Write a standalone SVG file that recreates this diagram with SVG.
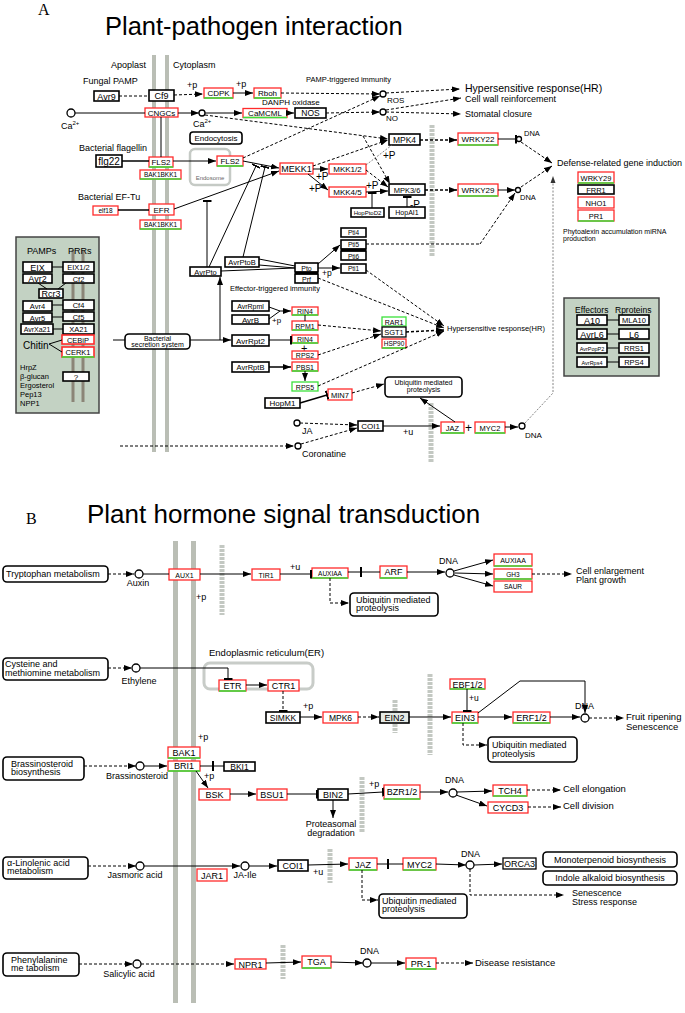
<svg xmlns="http://www.w3.org/2000/svg" width="685" height="1013" viewBox="0 0 685 1013">
<style>
text{font-family:"Liberation Sans",Arial,sans-serif;fill:#000}
.serif{font-family:"Liberation Serif","Times New Roman",serif}
.n rect{fill:#fff;stroke:#000;stroke-width:1}
.n rect.k{stroke-width:1.6}
.n rect.r{stroke:#ff2b2b;stroke-width:1.3}
.n rect.g{stroke:#3be03b;stroke-width:1.3}
.n rect.p{stroke-width:1.3}
.gl{stroke:#3be03b;stroke-width:1.6;fill:none}
.c{text-anchor:middle}
.l{fill:none;stroke:#000;stroke-width:1}
.w{stroke-width:1.5}
.d{stroke-dasharray:3,2}
.dt{stroke:#666;stroke-width:0.8;stroke-dasharray:2,1.5}
.a{marker-end:url(#ah)}
.t{marker-end:url(#tb)}
.mem{stroke:#babeb5;stroke-width:4}
.memb{stroke:#babeb5;stroke-width:5}
.nuc{stroke:#c3c8c2;stroke-width:5;stroke-dasharray:3,1}
.cir{fill:#fff;stroke:#000;stroke-width:1.3}
.panel{fill:#c3d2c3;stroke:#444;stroke-width:1.5}
.pl{stroke:#8b8577;stroke-width:3}
</style>
<defs>
<marker id="ah" markerUnits="userSpaceOnUse" markerWidth="8" markerHeight="6" viewBox="0 0 8 6" refX="8" refY="3" orient="auto"><path d="M0,0 L8,3 L0,6z"/></marker>
<marker id="tb" markerUnits="userSpaceOnUse" markerWidth="2" markerHeight="9" viewBox="0 0 2 9" refX="1" refY="4.5" orient="auto"><rect width="2" height="9"/></marker>
</defs>
<rect width="685" height="1013" fill="#fff"/>

<!-- ================= PART A ================= -->
<text class="serif" x="38" y="15" font-size="16">A</text>
<text x="105" y="35" font-size="25.5">Plant-pathogen interaction</text>

<g id="membranes-a">
<line class="mem" x1="154" y1="55" x2="154" y2="452"/>
<line class="mem" x1="167" y1="55" x2="167" y2="452"/>
<line class="nuc" x1="432" y1="125" x2="432" y2="257"/>
<line class="nuc" x1="431" y1="403" x2="431" y2="462"/>
</g>

<g id="labels-a">
<text x="111" y="68" font-size="9">Apoplast</text>
<text x="173" y="68" font-size="9">Cytoplasm</text>
<text x="83" y="84" font-size="9">Fungal PAMP</text>
<text x="79" y="151" font-size="9">Bacterial flagellin</text>
<text x="78" y="200" font-size="9">Bacterial EF-Tu</text>
<text x="61" y="129" font-size="9">Ca<tspan font-size="6" dy="-4">2+</tspan></text>
<text x="193" y="127" font-size="9">Ca<tspan font-size="6" dy="-4">2+</tspan></text>
<text x="306" y="82" font-size="7.5">PAMP-triggered immunity</text>
<text x="262" y="105" font-size="8">DANPH oxidase</text>
<text x="387" y="103" font-size="8">ROS</text>
<text x="386" y="121" font-size="8">NO</text>
<text x="465" y="92" font-size="10.5">Hypersensitive response(HR)</text>
<text x="465" y="101.5" font-size="9">Cell wall reinforcement</text>
<text x="465" y="117" font-size="9">Stomatal closure</text>
<text x="557" y="166" font-size="9">Defense-related gene induction</text>
<text x="563" y="234" font-size="7">Phytoalexin accumulation miRNA</text>
<text x="563" y="240.5" font-size="7">production</text>
<text x="524" y="136" font-size="7.5">DNA</text>
<text x="520" y="200" font-size="7.5">DNA</text>
<text x="230" y="291" font-size="7.5">Effector-triggered immunity</text>
<text x="447" y="331" font-size="7.5">Hypersensitive response(HR)</text>
<text x="302" y="434" font-size="9">JA</text>
<text x="302" y="457" font-size="9">Coronatine</text>
<text x="525" y="438" font-size="8">DNA</text>
<text x="403" y="435" font-size="9">+u</text>
<text x="465" y="432" font-size="12">+</text>
<text x="301" y="352" font-size="11">+</text>
<text x="187" y="88" font-size="9">+p</text>
<text x="236" y="87" font-size="9">+p</text>
<text x="322" y="276" font-size="8.5">+p</text>
<text x="272" y="323" font-size="8">+p</text>
<text x="316" y="180" font-size="10">+P</text>
<text x="309" y="192" font-size="10">+P</text>
<text x="366" y="189" font-size="10">+P</text>
<text x="383" y="159" font-size="10">+P</text>
<text x="410" y="208" font-size="10">-P</text>
</g>

<g id="panel-pamps">
<rect class="panel" x="16" y="237" width="83" height="176"/>
<line class="pl" x1="73" y1="250" x2="73" y2="402"/>
<line class="pl" x1="83" y1="250" x2="83" y2="402"/>
<text x="27" y="254" font-size="9">PAMPs</text>
<text x="68" y="254" font-size="9">PRRs</text>
<text x="23" y="349" font-size="10">Chitin</text>
<text x="20" y="370" font-size="7.5">HrpZ</text>
<text x="20" y="379" font-size="7.5">β-glucan</text>
<text x="20" y="388" font-size="7.5">Ergosterol</text>
<text x="20" y="397" font-size="7.5">Pep13</text>
<text x="20" y="405.5" font-size="7.5">NPP1</text>
</g>

<g id="panel-effectors">
<rect class="panel" x="564" y="298" width="95" height="78"/>
<text x="575" y="313" font-size="8.5">Effectors</text>
<text x="615" y="313" font-size="8.5">Rproteins</text>
</g>

<!-- nodes A -->
<g id="n-avr9" class="n"><rect class="k" x="94" y="91" width="25" height="10"/><text class="c" x="106.5" y="99.5" font-size="9">Avr9</text></g>
<g id="n-cf9" class="n"><rect class="k" x="149" y="90" width="25" height="11"/><text class="c" x="161.5" y="99" font-size="9">Cf9</text></g>
<g id="n-cdpk" class="n"><rect class="r" x="204" y="88" width="29" height="10"/><path class="gl" d="M204,98H233"/><text class="c" x="218.5" y="96" font-size="8">CDPK</text></g>
<g id="n-rboh" class="n"><rect class="r" x="254" y="88" width="27" height="10"/><path class="gl" d="M254,98H281"/><text class="c" x="267.5" y="96" font-size="8">Rboh</text></g>
<g id="n-cngcs" class="n"><rect class="r" x="145" y="108" width="33" height="9"/><text class="c" x="161.5" y="115.5" font-size="8">CNGCs</text></g>
<g id="n-camcml" class="n"><rect class="r" x="243" y="108.5" width="44" height="9"/><path class="gl" d="M243,117.5H287"/><text class="c" x="265" y="116" font-size="8">CaMCML</text></g>
<g id="n-nos" class="n"><rect class="k" x="295" y="108" width="31" height="10"/><text class="c" x="310.5" y="116" font-size="8.5">NOS</text></g>
<g id="n-endocytosis" class="n"><rect class="k" x="190" y="132" width="52" height="12" rx="3"/><text class="c" x="216" y="141" font-size="8">Endocytosis</text></g>
<g id="n-endosome"><rect x="190" y="149" width="40" height="36" rx="5" fill="none" stroke="#c5cac5" stroke-width="2.5"/><text class="c" x="210" y="180" font-size="6" style="fill:#666">Endosome</text></g>
<g id="n-flg22" class="n"><rect class="k" x="96" y="155" width="26" height="12"/><text class="c" x="109" y="164.5" font-size="10">flg22</text></g>
<g id="n-fls2m" class="n"><rect class="r" x="149" y="157" width="24" height="10"/><path class="gl" d="M149,167H173"/><text class="c" x="161" y="165" font-size="8">FLS2</text></g>
<g id="n-bak1a" class="n"><rect class="r" x="140" y="170" width="41" height="9"/><path class="gl" d="M140,179H181"/><text class="c" x="160.5" y="177" font-size="6.5">BAK1BKK1</text></g>
<g id="n-fls2c" class="n"><rect class="r" x="217" y="156" width="26" height="10"/><path class="gl" d="M217,166H243"/><text class="c" x="230" y="164" font-size="8">FLS2</text></g>
<g id="n-elf18" class="n"><rect class="r" x="93" y="206" width="25" height="9"/><text class="c" x="105.5" y="213" font-size="6.5">elf18</text></g>
<g id="n-efr" class="n"><rect class="r" x="149" y="204" width="25" height="11"/><text class="c" x="161.5" y="212.5" font-size="8">EFR</text></g>
<g id="n-bak1b" class="n"><rect class="r" x="140" y="220" width="41" height="9"/><path class="gl" d="M140,229H181"/><text class="c" x="160.5" y="227" font-size="6.5">BAK1BKK1</text></g>
<g id="n-mekk1" class="n"><rect class="r" x="280" y="163" width="33" height="11"/><text class="c" x="296.5" y="172" font-size="9">MEKK1</text></g>
<g id="n-mkk12" class="n"><rect class="r" x="329" y="164" width="37" height="10"/><text class="c" x="347.5" y="172" font-size="8">MKK1/2</text></g>
<g id="n-mkk45" class="n"><rect class="r" x="329" y="187" width="37" height="10"/><text class="c" x="347.5" y="195" font-size="8">MKK4/5</text></g>
<g id="n-mpk4" class="n"><rect class="k" x="389" y="134" width="31" height="11"/><text class="c" x="404.5" y="143" font-size="8.5">MPK4</text></g>
<g id="n-mpk36" class="n"><rect class="k" x="389" y="184" width="36" height="11"/><text class="c" x="407" y="192.5" font-size="7.5">MPK3/6</text></g>
<g id="n-hopptod2" class="n"><rect class="k" x="351" y="208" width="33" height="9"/><text class="c" x="367.5" y="215" font-size="6">HopPtoD2</text></g>
<g id="n-hopai1" class="n"><rect class="k" x="389" y="207" width="36" height="11"/><text class="c" x="407" y="215" font-size="7">HopAI1</text></g>
<g id="n-wrky22" class="n"><rect class="r" x="458" y="133" width="40" height="12"/><path class="gl" d="M458,145H498"/><text class="c" x="478" y="142" font-size="8">WRKY22</text></g>
<g id="n-wrky29" class="n"><rect class="r" x="458" y="184" width="40" height="12"/><path class="gl" d="M458,196H498"/><text class="c" x="478" y="193" font-size="8">WRKY29</text></g>
<g id="n-wrky29b" class="n"><rect class="r" x="578" y="172" width="36" height="11"/><path class="gl" d="M578,183H614"/><text class="c" x="596" y="180.5" font-size="7.5">WRKY29</text></g>
<g id="n-frr1" class="n"><rect class="k" x="578" y="185" width="36" height="9"/><text class="c" x="596" y="192.5" font-size="7.5">FRR1</text></g>
<g id="n-nho1" class="n"><rect class="r" x="578" y="197" width="36" height="11"/><text class="c" x="596" y="205.5" font-size="7.5">NHO1</text></g>
<g id="n-pr1" class="n"><rect class="r" x="578" y="210" width="36" height="11"/><path class="gl" d="M578,221H614"/><text class="c" x="596" y="218.5" font-size="7.5">PR1</text></g>
<g id="n-avrpto" class="n"><rect class="k" x="190" y="267" width="31" height="9"/><text class="c" x="205.5" y="274.5" font-size="7.5">AvrPto</text></g>
<g id="n-avrptob" class="n"><rect class="k" x="225" y="257" width="34" height="10"/><text class="c" x="242" y="265" font-size="7.5">AvrPtoB</text></g>
<g id="n-pto-prf" class="n"><rect class="k" x="295" y="263" width="23" height="9"/><rect class="k" x="295" y="274" width="23" height="9"/><rect x="295" y="271.5" width="23" height="3" style="fill:#000;stroke:none"/><text class="c" x="306.5" y="270.5" font-size="7">Pto</text><text class="c" x="306.5" y="281.5" font-size="7">Prf</text></g>
<g id="n-pti4" class="n"><rect class="k" x="341" y="228" width="25" height="9"/><text class="c" x="353.5" y="235" font-size="6.5">Pti4</text></g>
<g id="n-pti56" class="n"><rect class="k" x="341" y="240" width="25" height="9"/><rect class="k" x="341" y="251" width="25" height="9"/><rect x="341" y="248.5" width="25" height="3" style="fill:#000;stroke:none"/><text class="c" x="353.5" y="247" font-size="6.5">Pti5</text><text class="c" x="353.5" y="258.5" font-size="6.5">Pti6</text></g>
<g id="n-pti1" class="n"><rect class="k" x="341" y="264" width="25" height="9"/><text class="c" x="353.5" y="271" font-size="6.5">Pti1</text></g>
<g id="n-avrrpml" class="n"><rect class="k" x="232" y="301" width="37" height="10"/><text class="c" x="250.5" y="308.5" font-size="7">AvrRpml</text></g>
<g id="n-avrb" class="n"><rect class="k" x="232" y="315" width="37" height="9"/><text class="c" x="250.5" y="322.5" font-size="8">AvrB</text></g>
<g id="n-avrrpt2" class="n"><rect class="k" x="232" y="335" width="37" height="11"/><text class="c" x="250.5" y="343.5" font-size="8">AvrRpt2</text></g>
<g id="n-avrrptb" class="n"><rect class="k" x="232" y="362" width="37" height="10"/><text class="c" x="250.5" y="370" font-size="7.5">AvrRptB</text></g>
<g id="n-rin4a" class="n"><rect class="r" x="292" y="307" width="26" height="8"/><path class="gl" d="M292,315H318"/><text class="c" x="305" y="314" font-size="7">RIN4</text></g>
<g id="n-rpm1" class="n"><rect class="r" x="292" y="321" width="26" height="9"/><path class="gl" d="M292,330H318"/><text class="c" x="305" y="328.5" font-size="7">RPM1</text></g>
<g id="n-rin4b" class="n"><rect class="r" x="292" y="335" width="26" height="8"/><path class="gl" d="M292,343H318"/><text class="c" x="305" y="342" font-size="7">RIN4</text></g>
<g id="n-rps2" class="n"><rect class="r" x="292" y="351" width="26" height="8"/><text class="c" x="305" y="358" font-size="7">RPS2</text></g>
<g id="n-pbs1" class="n"><rect class="r" x="292" y="362" width="26" height="9"/><path class="gl" d="M292,371H318"/><text class="c" x="305" y="369.5" font-size="7">PBS1</text></g>
<g id="n-rps5" class="n"><rect class="g" x="292" y="382" width="26" height="9"/><text class="c" x="305" y="389.5" font-size="7">RPS5</text></g>
<g id="n-rar1" class="n"><rect class="g" x="382" y="317" width="24" height="9"/><text class="c" x="394" y="324.5" font-size="7">RAR1</text></g>
<g id="n-sgt1" class="n"><rect class="p" x="382" y="327" width="24" height="10"/><text class="c" x="394" y="335" font-size="7.5">SGT1</text></g>
<g id="n-hsp90" class="n"><rect class="r" x="382" y="339" width="24" height="9"/><path class="gl" d="M382,348H406"/><text class="c" x="394" y="346" font-size="6.5">HSP90</text></g>
<g id="n-hopm1" class="n"><rect class="k" x="265" y="398" width="35" height="10"/><text class="c" x="282.5" y="406" font-size="8">HopM1</text></g>
<g id="n-min7" class="n"><rect class="r" x="328" y="389" width="24" height="11"/><text class="c" x="340" y="397.5" font-size="7.5">MIN7</text></g>
<g id="n-ubq-a" class="n"><rect class="k" x="385" y="377" width="77" height="20" rx="4"/><text class="c" x="423.5" y="385" font-size="7">Ubiquitin mediated</text><text class="c" x="423.5" y="392" font-size="7">proteolysis</text></g>
<g id="n-coi1-a" class="n"><rect class="k" x="358" y="421" width="25" height="10"/><text class="c" x="370.5" y="429" font-size="8">COI1</text></g>
<g id="n-jaz-a" class="n"><rect class="r" x="441" y="422" width="23" height="11"/><path class="gl" d="M441,433H464"/><text class="c" x="452.5" y="430.5" font-size="7.5">JAZ</text></g>
<g id="n-myc2-a" class="n"><rect class="r" x="475" y="422" width="30" height="11"/><path class="gl" d="M475,433H505"/><text class="c" x="490" y="430.5" font-size="7.5">MYC2</text></g>
<g id="n-bss" class="n"><rect class="k" x="125" y="334" width="65" height="15" rx="4"/><text class="c" x="157.5" y="340.5" font-size="7">Bacterial</text><text class="c" x="157.5" y="347" font-size="7">secretion system</text></g>

<!-- panel nodes -->
<g id="n-eix" class="n"><rect class="k" x="23" y="262" width="29" height="10"/><text class="c" x="37.5" y="270.5" font-size="9">EIX</text></g>
<g id="n-eix12" class="n"><rect class="k" x="63" y="262" width="31" height="10"/><text class="c" x="78.5" y="270" font-size="7.5">EIX1/2</text></g>
<g id="n-avr2" class="n"><rect class="k" x="23" y="274" width="29" height="9"/><text class="c" x="37.5" y="282" font-size="9">Avr2</text></g>
<g id="n-cf2" class="n"><rect class="k" x="63" y="274" width="31" height="9"/><text class="c" x="78.5" y="281.5" font-size="7.5">Cf2</text></g>
<g id="n-rcr3" class="n"><rect class="k" x="39" y="289" width="24" height="9"/><text class="c" x="51" y="297" font-size="9">Rcr3</text></g>
<g id="n-avr4" class="n"><rect class="k" x="23" y="301" width="29" height="10"/><text class="c" x="37.5" y="309" font-size="7.5">Avr4</text></g>
<g id="n-cf4" class="n"><rect class="k" x="63" y="300" width="31" height="10"/><text class="c" x="78.5" y="308" font-size="7.5">Cf4</text></g>
<g id="n-avr5" class="n"><rect class="k" x="23" y="313" width="29" height="9"/><text class="c" x="37.5" y="320.5" font-size="7.5">Avr5</text></g>
<g id="n-cf5" class="n"><rect class="k" x="63" y="312" width="31" height="9"/><text class="c" x="78.5" y="319.5" font-size="7.5">Cf5</text></g>
<g id="n-avrxa21" class="n"><rect class="k" x="21" y="324" width="32" height="10"/><text class="c" x="37" y="332" font-size="7">AvrXa21</text></g>
<g id="n-xa21" class="n"><rect class="k" x="63" y="324" width="31" height="10"/><text class="c" x="78.5" y="332" font-size="7.5">XA21</text></g>
<g id="n-cebip" class="n"><rect class="r" x="62" y="335" width="32" height="9" style="stroke-width:1.6"/><text class="c" x="78" y="342.5" font-size="7.5">CEBiP</text></g>
<g id="n-cerk1" class="n"><rect class="r" x="62" y="347" width="32" height="10" style="stroke-width:1.6"/><path class="gl" d="M62,357H94"/><text class="c" x="78" y="355" font-size="7.5">CERK1</text></g>
<g id="n-unknown" class="n"><rect class="k" x="63" y="372" width="26" height="9"/><text class="c" x="76" y="380" font-size="8">?</text></g>

<g id="n-a10" class="n"><rect class="k" x="577" y="315" width="30" height="10"/><text class="c" x="592" y="323.5" font-size="9">A10</text></g>
<g id="n-mla10" class="n"><rect class="k" x="619" y="315" width="30" height="10"/><text class="c" x="634" y="323" font-size="7.5">MLA10</text></g>
<g id="n-avrl6" class="n"><rect class="k" x="577" y="329" width="30" height="10"/><text class="c" x="592" y="337.5" font-size="9">AvrL6</text></g>
<g id="n-l6" class="n"><rect class="k" x="619" y="329" width="30" height="10"/><text class="c" x="634" y="337.5" font-size="9">L6</text></g>
<g id="n-avrpopp2" class="n"><rect class="k" x="577" y="343" width="30" height="10"/><text class="c" x="592" y="350.5" font-size="5.5">AvrPopP2</text></g>
<g id="n-rrs1" class="n"><rect class="k" x="619" y="343" width="30" height="10"/><text class="c" x="634" y="351" font-size="7.5">RRS1</text></g>
<g id="n-avrrps4" class="n"><rect class="k" x="577" y="357" width="30" height="10"/><text class="c" x="592" y="364.5" font-size="5.5">AvrRps4</text></g>
<g id="n-rps4" class="n"><rect class="k" x="619" y="357" width="30" height="10"/><text class="c" x="634" y="365" font-size="7.5">RPS4</text></g>

<!-- connectors A -->
<g id="connectors-a">
<path class="l d" d="M119,96H149"/>
<path class="l d a" d="M174,95L203,94"/>
<path class="l a" d="M233,93H253"/>
<path class="l d a" d="M281,93L380,94"/>
<path class="l d a" d="M386,93L460,89"/>
<path class="l d a" d="M386,110L461,98"/>
<path class="l d a" d="M386,112L461,114"/>
<path class="l" d="M75,113H145"/>
<path class="l a" d="M178,113H199"/>
<path class="l a" d="M205,113H242"/>
<path class="l a" d="M287,113H294"/>
<path class="l d a" d="M326,113L380,112"/>
<path class="l d a" d="M205,115L388,139"/>
<path class="l d a" d="M363,136L390,184"/>
<path class="l" d="M161,117V157"/>
<path class="l w" d="M122,161H149"/>
<path class="l a" d="M173,161H216"/>
<path class="l a" d="M243,161L279,168"/>
<path class="l d a" d="M243,158L380,96"/>
<path class="l w" d="M118,210H149"/>
<path class="l a" d="M174,209L279,171"/>
<path class="l t" d="M207,267V201"/>
<path class="l t" d="M209,267L256,166"/>
<path class="l t" d="M243,257L265,167"/>
<path class="l" d="M221,271L295,268"/>
<path class="l" d="M259,259L295,266M259,265L295,268"/>
<path class="l a" d="M318,264L340,245"/>
<path class="l a" d="M318,268H340"/>
<path class="l d" d="M366,244H480"/>
<path class="l d a" d="M480,244L515,193"/>
<path class="l d a" d="M366,270L444,326"/>
<path class="l d a" d="M318,278L444,328"/>
<path class="l" d="M269,307L280,311M269,319L280,311"/>
<path class="l a" d="M280,311H291"/>
<path class="l" d="M305,315V321"/>
<path class="l t" d="M269,340H291"/>
<path class="l a w" d="M269,367H291"/>
<path class="l a" d="M305,371V381"/>
<path class="l d a" d="M318,325L381,331"/>
<path class="l d a" d="M318,355L381,334"/>
<path class="l d a" d="M318,386L444,331"/>
<path class="l d a w" d="M406,332L444,330"/>
<path class="l" d="M113,340H125"/>
<path class="l a" d="M190,340H231"/>
<path class="l a" d="M220,340V277"/>
<path class="l t w" d="M300,403L327,395"/>
<path class="l d a" d="M352,393L384,384"/>
<path class="l d a" d="M300,423L357,425"/>
<path class="l d a" d="M120,446H294"/>
<path class="l d a" d="M301,444L357,428"/>
<path class="l a" d="M383,426H440"/>
<path class="l a" d="M455,422L420,398"/>
<path class="l a" d="M505,427H518"/>
<path class="l dt" d="M525,423L553,393V182"/>
<path d="M553,176L550.5,183H555.5z" fill="#333"/>
<path class="l d a w" d="M420,140H457"/>
<path class="l d a w" d="M425,190H457"/>
<path class="l t" d="M498,139H516"/>
<path class="l a" d="M498,190H515"/>
<path class="l d a" d="M521,142L552,163"/>
<path class="l d a" d="M521,187L552,166"/>
<path class="l a" d="M313,169H328"/>
<path class="l a" d="M308,174L328,190"/>
<path class="l d a" d="M313,166L388,140"/>
<path class="l dt" d="M366,165L392,145"/>
<path class="l d a" d="M366,170L388,187"/>
<path class="l a" d="M366,192L388,191"/>
<path class="l t" d="M372,208V193"/>
<path class="l t" d="M407,207V197"/>
<circle class="cir" cx="71" cy="113" r="4"/>
<circle class="cir" cx="202" cy="113" r="3"/>
<circle class="cir" cx="383" cy="94" r="3"/>
<circle class="cir" cx="383" cy="112" r="3"/>
<circle class="cir" cx="519" cy="139" r="2.5"/>
<circle class="cir" cx="518" cy="190" r="2.5"/>
<circle class="cir" cx="297" cy="423" r="3"/>
<circle class="cir" cx="298" cy="446" r="3"/>
<circle class="cir" cx="522" cy="426" r="3"/>
<path class="l" d="M52,267H63M38,283L47,289M66,283L58,289M52,305H63M52,317H63M53,329H63"/>
<path class="l" d="M49,344L62,340M49,344L62,352"/>
<path class="l" d="M607,320H619M607,334H619M607,348H619M607,362H619"/>
</g>

<!-- ================= PART B ================= -->
<text class="serif" x="26" y="524" font-size="16">B</text>
<text x="87" y="523" font-size="26">Plant hormone signal transduction</text>

<g id="membranes-b">
<line class="memb" x1="175.5" y1="541" x2="175.5" y2="1003"/>
<line class="memb" x1="193.5" y1="541" x2="193.5" y2="1003"/>
<line class="nuc" x1="222" y1="545" x2="222" y2="615"/>
<line class="nuc" x1="395" y1="700" x2="395" y2="733"/>
<line class="nuc" x1="430" y1="674" x2="430" y2="755"/>
<line class="nuc" x1="362" y1="777" x2="362" y2="832"/>
<line class="nuc" x1="330" y1="849" x2="330" y2="883"/>
<line class="nuc" x1="283" y1="945" x2="283" y2="979"/>
</g>

<g id="labels-b">
<text class="c" x="138" y="586" font-size="9">Auxin</text>
<text x="196" y="600" font-size="9">+p</text>
<text x="290" y="570" font-size="9">+u</text>
<text x="439" y="564" font-size="9">DNA</text>
<text x="576" y="573.5" font-size="9">Cell enlargement</text>
<text x="576" y="582.5" font-size="9">Plant growth</text>
<text x="209" y="656" font-size="9.5">Endoplasmic reticulum(ER)</text>
<text class="c" x="139" y="684" font-size="9">Ethylene</text>
<text x="303" y="709" font-size="9">+p</text>
<text x="469" y="701" font-size="8.5">+u</text>
<text x="575" y="709" font-size="9">DNA</text>
<text x="626" y="720" font-size="9.5">Fruit ripening</text>
<text x="626" y="729.5" font-size="9.5">Senescence</text>
<text x="198" y="740" font-size="9">+p</text>
<text class="c" x="137" y="779" font-size="9">Brassinosteroid</text>
<text x="204" y="779" font-size="9">+p</text>
<text class="c" x="331" y="827" font-size="9">Proteasomal</text>
<text class="c" x="331" y="836" font-size="9">degradation</text>
<text x="369" y="787" font-size="9">+p</text>
<text x="445" y="783" font-size="9">DNA</text>
<text x="563" y="792" font-size="9.5">Cell elongation</text>
<text x="563" y="809" font-size="9.5">Cell division</text>
<text class="c" x="135" y="878" font-size="9">Jasmoric acid</text>
<text class="c" x="245" y="878" font-size="9">JA-Ile</text>
<text x="313" y="875" font-size="9">+u</text>
<text x="461" y="857" font-size="9">DNA</text>
<text x="572" y="895.5" font-size="9">Senescence</text>
<text x="572" y="904.5" font-size="9">Stress response</text>
<text class="c" x="129" y="977" font-size="9">Salicylic acid</text>
<text x="360" y="954" font-size="9">DNA</text>
<text x="475" y="966" font-size="9.5">Disease resistance</text>
</g>

<g id="n-trp" class="n"><rect class="k" x="3" y="566" width="105" height="16" rx="4"/><text x="6" y="577" font-size="9">Tryptophan metabolism</text></g>
<g id="n-aux1" class="n"><rect class="r" x="169" y="569" width="31" height="11"/><text class="c" x="184.5" y="577.5" font-size="7">AUX1</text></g>
<g id="n-tir1" class="n"><rect class="r" x="252" y="569" width="28" height="11"/><text class="c" x="266" y="577.5" font-size="7">TIR1</text></g>
<g id="n-auxiaa1" class="n"><rect class="r" x="312" y="568" width="36" height="10"/><path class="gl" d="M312,578H348"/><text class="c" x="330" y="575.5" font-size="6.5">AUXIAA</text></g>
<g id="n-arf" class="n"><rect class="r" x="380" y="566" width="27" height="12"/><path class="gl" d="M380,578H407"/><text class="c" x="393.5" y="575" font-size="9">ARF</text></g>
<g id="n-auxiaa2" class="n"><rect class="r" x="494" y="554" width="38" height="12"/><path class="gl" d="M494,566H532"/><text class="c" x="513" y="563" font-size="7">AUXIAA</text></g>
<g id="n-gh3" class="n"><rect class="r" x="494" y="569" width="38" height="10"/><path class="gl" d="M494,579H532"/><text class="c" x="513" y="576.5" font-size="6.5">GH3</text></g>
<g id="n-saur" class="n"><rect class="r" x="494" y="581" width="38" height="11"/><text class="c" x="513" y="589" font-size="6.5">SAUR</text></g>
<g id="n-ubq-b1" class="n"><rect class="k" x="350" y="593" width="88" height="23" rx="4"/><text x="356" y="603" font-size="9">Ubiquitin mediated</text><text x="356" y="611" font-size="9">proteolysis</text></g>
<g id="n-cys" class="n"><rect class="k" x="3" y="658" width="105" height="22" rx="4"/><text x="5" y="667" font-size="9">Cysteine and</text><text x="5" y="675.5" font-size="9">methiomine metabolism</text></g>
<g id="n-er"><rect x="204" y="663" width="109" height="26" rx="6" fill="none" stroke="#c8ccc8" stroke-width="3"/></g>
<g id="n-etr" class="n"><rect class="r" x="219" y="680" width="27" height="11"/><path class="gl" d="M219,691H246"/><text class="c" x="232.5" y="689" font-size="9">ETR</text></g>
<g id="n-ctr1" class="n"><rect class="r" x="268" y="680" width="31" height="11"/><text class="c" x="283.5" y="689" font-size="9">CTR1</text></g>
<g id="n-simkk" class="n"><rect class="k" x="266" y="712" width="34" height="11"/><text class="c" x="283" y="720.5" font-size="8.5">SIMKK</text></g>
<g id="n-mpk6" class="n"><rect class="r" x="323" y="712" width="35" height="11"/><text class="c" x="340.5" y="720.5" font-size="8.5">MPK6</text></g>
<g id="n-ein2" class="n"><rect class="k" x="380" y="712" width="29" height="11" style="fill:#e4e9e4"/><text class="c" x="394.5" y="720.5" font-size="9">EIN2</text></g>
<g id="n-ebf12" class="n"><rect class="r" x="450" y="679" width="35" height="10"/><path class="gl" d="M450,689H485"/><text class="c" x="467.5" y="687.5" font-size="9">EBF1/2</text></g>
<g id="n-ein3" class="n"><rect class="r" x="452" y="712" width="26" height="11"/><path class="gl" d="M452,723H478"/><text class="c" x="465" y="720.5" font-size="9">EIN3</text></g>
<g id="n-erf12" class="n"><rect class="r" x="513" y="712" width="37" height="11"/><path class="gl" d="M513,723H550"/><text class="c" x="531.5" y="720.5" font-size="9">ERF1/2</text></g>
<g id="n-ubq-b2" class="n"><rect class="k" x="488" y="737" width="89" height="25" rx="4"/><text x="492" y="748" font-size="9">Ubiquitin mediated</text><text x="492" y="756.5" font-size="9">proteolysis</text></g>
<g id="n-brb" class="n"><rect class="k" x="3" y="757" width="81" height="23" rx="4"/><text x="11" y="767" font-size="9">Brassinosteroid</text><text x="11" y="775" font-size="9">biosynthesis</text></g>
<g id="n-bak1" class="n"><rect class="r" x="168" y="747" width="32" height="11"/><path class="gl" d="M168,758H200"/><text class="c" x="184" y="755.5" font-size="9">BAK1</text></g>
<g id="n-bri1" class="n"><rect class="r" x="168" y="761" width="32" height="10"/><path class="gl" d="M168,771H200"/><text class="c" x="184" y="769" font-size="9">BRI1</text></g>
<g id="n-bki1" class="n"><rect class="k" x="224" y="762" width="31" height="9"/><text class="c" x="239.5" y="770" font-size="8.5">BKI1</text></g>
<g id="n-bsk" class="n"><rect class="r" x="199" y="789" width="31" height="11"/><text class="c" x="214.5" y="797.5" font-size="9">BSK</text></g>
<g id="n-bsu1" class="n"><rect class="r" x="257" y="789" width="30" height="11"/><text class="c" x="272" y="797.5" font-size="9">BSU1</text></g>
<g id="n-bin2" class="n"><rect class="k" x="318" y="789" width="30" height="11"/><text class="c" x="333" y="797.5" font-size="9">BIN2</text></g>
<g id="n-bzr12" class="n"><rect class="r" x="384" y="785" width="36" height="14"/><path class="gl" d="M384,799H420"/><text class="c" x="402" y="795" font-size="9">BZR1/2</text></g>
<g id="n-tch4" class="n"><rect class="r" x="493" y="785" width="34" height="11"/><path class="gl" d="M493,796H527"/><text class="c" x="510" y="794" font-size="9">TCH4</text></g>
<g id="n-cycd3" class="n"><rect class="r" x="488" y="802" width="40" height="11"/><text class="c" x="508" y="811" font-size="9">CYCD3</text></g>
<g id="n-lin" class="n"><rect class="k" x="3" y="857" width="85" height="22" rx="4"/><text x="7" y="866" font-size="9">α-Linolenic acid</text><text x="7" y="874" font-size="9">metabolism</text></g>
<g id="n-jar1" class="n"><rect class="r" x="197" y="869" width="30" height="12"/><text class="c" x="212" y="878.5" font-size="9">JAR1</text></g>
<g id="n-coi1-b" class="n"><rect class="k" x="278" y="860" width="30" height="11"/><text class="c" x="293" y="868.5" font-size="9">COI1</text></g>
<g id="n-jaz-b" class="n"><rect class="r" x="349" y="858" width="28" height="12"/><path class="gl" d="M349,870H377"/><text class="c" x="363" y="867.5" font-size="9">JAZ</text></g>
<g id="n-myc2-b" class="n"><rect class="r" x="403" y="858" width="33" height="12"/><path class="gl" d="M403,870H436"/><text class="c" x="419.5" y="867.5" font-size="9">MYC2</text></g>
<g id="n-orca3" class="n"><rect class="p" x="503" y="858" width="33" height="11"/><text class="c" x="519.5" y="867" font-size="9">ORCA3</text></g>
<g id="n-mono" class="n"><rect class="k" x="543" y="852" width="134" height="15" rx="4"/><text class="c" x="610" y="862.5" font-size="9">Monoterpenoid biosynthesis</text></g>
<g id="n-indole" class="n"><rect class="k" x="543" y="871" width="134" height="14" rx="4"/><text class="c" x="610" y="881" font-size="9">Indole alkaloid biosynthesis</text></g>
<g id="n-ubq-b3" class="n"><rect class="k" x="379" y="894" width="88" height="24" rx="4"/><text x="382" y="904" font-size="9">Ubiquitin mediated</text><text x="382" y="912" font-size="9">proteolysis</text></g>
<g id="n-phe" class="n"><rect class="k" x="3" y="953" width="76" height="23" rx="4"/><text x="11" y="962.5" font-size="9">Phenylalanine</text><text x="11" y="970.5" font-size="9">me tabolism</text></g>
<g id="n-npr1" class="n"><rect class="r" x="235" y="959" width="31" height="10"/><text class="c" x="250.5" y="967.5" font-size="9">NPR1</text></g>
<g id="n-tga" class="n"><rect class="r" x="302" y="956" width="29" height="12"/><path class="gl" d="M302,968H331"/><text class="c" x="316.5" y="965" font-size="9">TGA</text></g>
<g id="n-pr-1" class="n"><rect class="r" x="406" y="958" width="30" height="11"/><path class="gl" d="M406,969H436"/><text class="c" x="421" y="967" font-size="9">PR-1</text></g>

<g id="connectors-b">
<path class="l d a" d="M108,574H134"/>
<path class="l" d="M143,574H169"/>
<path class="l a" d="M200,574H251"/>
<path class="l t" d="M280,574H311"/>
<path class="l" d="M348,572H380"/>
<path d="M361,567V577" stroke="#000" stroke-width="2"/>
<path class="l d a" d="M330,578V603H349"/>
<path class="l a" d="M407,572H445"/>
<path class="l a" d="M454,571L493,560"/>
<path class="l a" d="M455,573L493,574"/>
<path class="l a" d="M454,575L493,586"/>
<path class="l d a" d="M532,574H572"/>
<path class="l d a" d="M108,668H132"/>
<path class="l t" d="M140,668H228V679"/>
<path class="l a" d="M246,685H267"/>
<path class="l d t" d="M283,691V711"/>
<path class="l a" d="M300,717H322"/>
<path class="l d a" d="M358,717H379"/>
<path class="l a" d="M409,717H451"/>
<path class="l t" d="M467,689V711"/>
<path class="l a" d="M478,717H512"/>
<path class="l a" d="M550,717H580"/>
<path class="l a" d="M478,713L520,681H585V713"/>
<path class="l d a" d="M589,718H624"/>
<path class="l d a" d="M463,723V745H487"/>
<path class="l d a" d="M84,766H136"/>
<path class="l a" d="M144,766H167"/>
<path class="l" d="M200,766H224"/>
<path d="M213,761V771" stroke="#000" stroke-width="2"/>
<path class="l a" d="M196,771L208,788"/>
<path class="l a" d="M230,794H256"/>
<path class="l t" d="M287,794H317"/>
<path class="l a" d="M333,800V818"/>
<path class="l t" d="M348,794L383,792"/>
<path class="l a" d="M420,792H448"/>
<path class="l a" d="M457,792L492,791"/>
<path class="l a" d="M456,795L487,806"/>
<path class="l d a" d="M527,790H561"/>
<path class="l d a" d="M528,807H561"/>
<path class="l d a" d="M88,866H136"/>
<path class="l a" d="M144,866H240"/>
<path class="l a" d="M249,866H277"/>
<path class="l a" d="M308,865L348,864"/>
<path class="l" d="M377,864H403"/>
<path d="M388,859V869" stroke="#000" stroke-width="2"/>
<path class="l a" d="M436,864L466,865"/>
<path class="l a" d="M474,865L502,864"/>
<path class="l d a" d="M470,869V895H564"/>
<path class="l d a" d="M362,870V900H378"/>
<path class="l d a" d="M79,964H133"/>
<path class="l d a" d="M141,964H234"/>
<path class="l a" d="M266,963L301,962"/>
<path class="l a" d="M331,962L363,963"/>
<path class="l a" d="M371,963H405"/>
<path class="l d a" d="M436,963H473"/>
<circle class="cir" cx="139" cy="574" r="4"/>
<circle class="cir" cx="450" cy="573" r="4"/>
<circle class="cir" cx="136" cy="668" r="4"/>
<circle class="cir" cx="585" cy="718" r="4"/>
<circle class="cir" cx="140" cy="766" r="4"/>
<circle class="cir" cx="453" cy="793" r="4"/>
<circle class="cir" cx="140" cy="866" r="4"/>
<circle class="cir" cx="245" cy="866" r="4"/>
<circle class="cir" cx="470" cy="865" r="4"/>
<circle class="cir" cx="137" cy="964" r="4"/>
<circle class="cir" cx="367" cy="963" r="4"/>
</g>
</svg>
